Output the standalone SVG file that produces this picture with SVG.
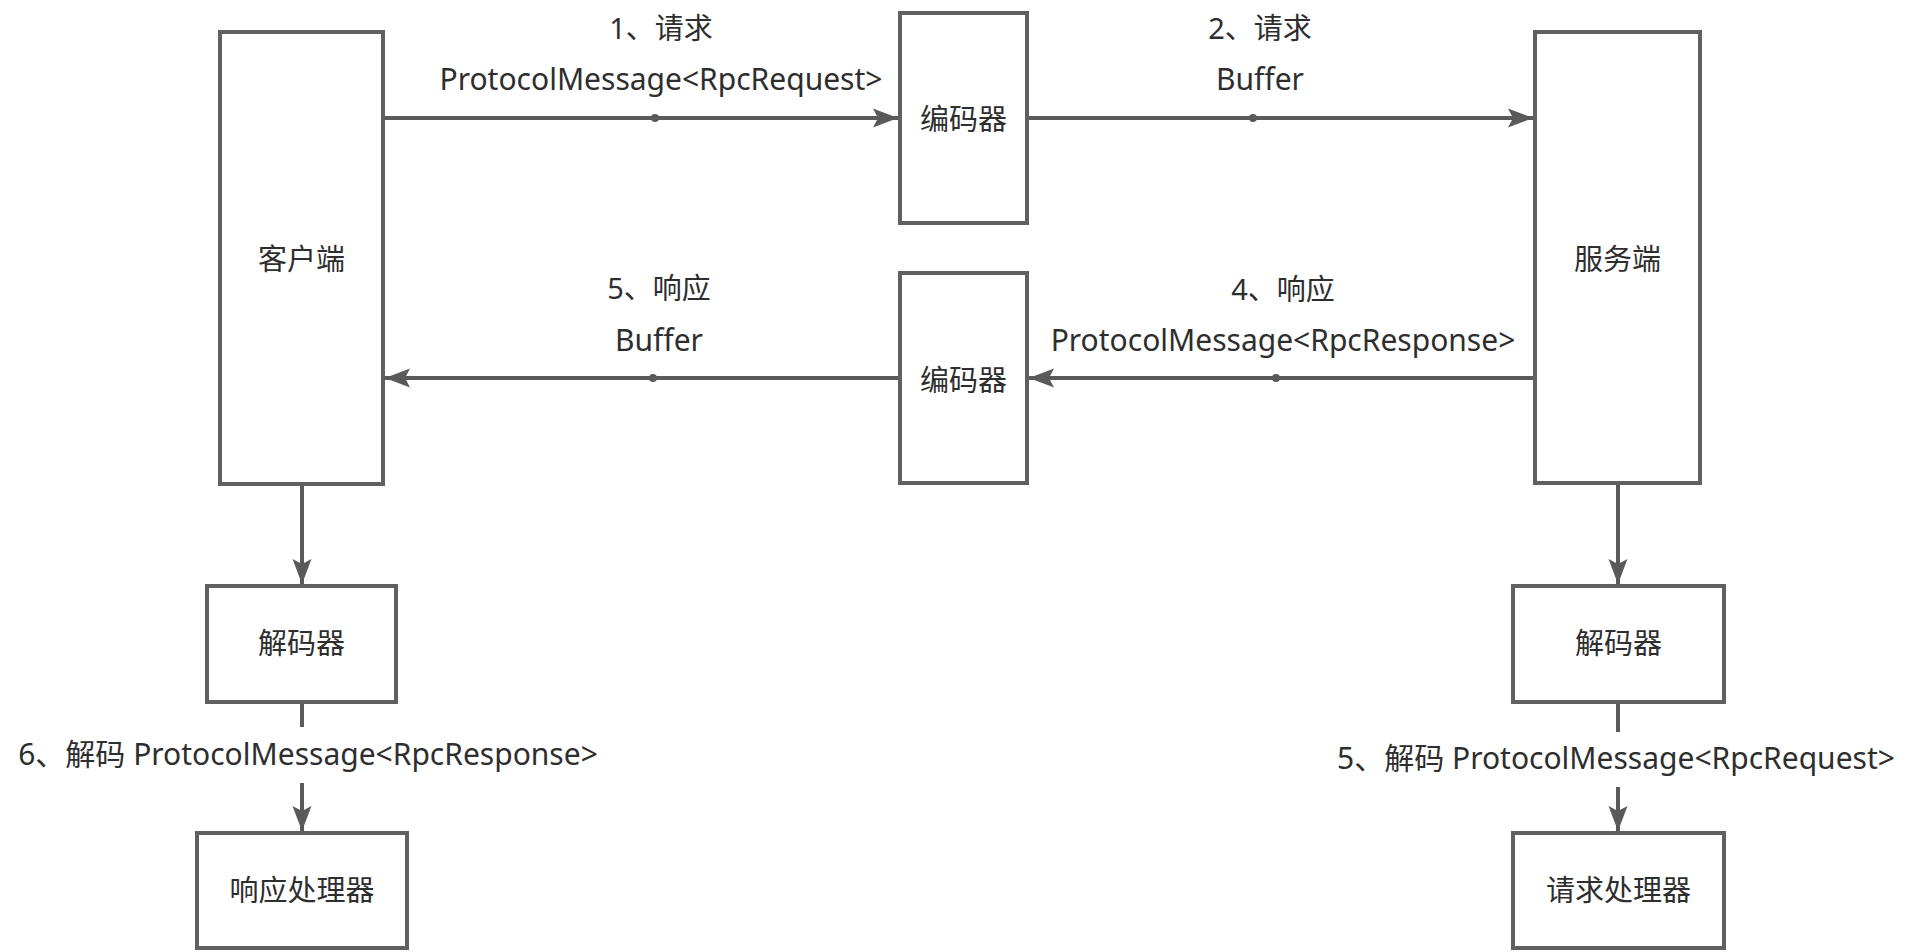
<svg xmlns="http://www.w3.org/2000/svg" width="1920" height="952" viewBox="0 0 1920 952">
  <style>
    .box { fill: #ffffff; stroke: #606060; stroke-width: 4; }
    .edge { fill: none; stroke: #5a5a5a; stroke-width: 4; }
    .dot { fill: #5a5a5a; }
    text { font-family: "Noto Sans", "Noto Sans CJK SC", sans-serif; font-size: 29px; fill: #2e2e2e; text-anchor: middle; }
    .lat { font-size: 30px; }
  </style>
  <defs>
    <marker id="arrow" markerUnits="userSpaceOnUse" markerWidth="26" markerHeight="20" viewBox="0 0 26 20" refX="25" refY="10" orient="auto">
      <path d="M0,0.5 L25,10 L0,19.5 L5,10 Z" fill="#5a5a5a"/>
    </marker>
  </defs>
  <rect width="1920" height="952" fill="#ffffff"/>

  <g id="connectors">
    <line class="edge" x1="385" y1="118" x2="898" y2="118" marker-end="url(#arrow)"/>
    <circle class="dot" cx="655" cy="118" r="4"/>
    <line class="edge" x1="1029" y1="118" x2="1533" y2="118" marker-end="url(#arrow)"/>
    <circle class="dot" cx="1253" cy="118" r="4"/>
    <line class="edge" x1="1533" y1="378" x2="1029" y2="378" marker-end="url(#arrow)"/>
    <circle class="dot" cx="1276" cy="378" r="4"/>
    <line class="edge" x1="898" y1="378" x2="385" y2="378" marker-end="url(#arrow)"/>
    <circle class="dot" cx="653" cy="378" r="4"/>
    <line class="edge" x1="302" y1="486" x2="302" y2="584" marker-end="url(#arrow)"/>
    <line class="edge" x1="1618" y1="485" x2="1618" y2="584" marker-end="url(#arrow)"/>
    <line class="edge" x1="302" y1="704" x2="302" y2="727"/>
    <line class="edge" x1="302" y1="783" x2="302" y2="831" marker-end="url(#arrow)"/>
    <line class="edge" x1="1618" y1="704" x2="1618" y2="732"/>
    <line class="edge" x1="1618" y1="787" x2="1618" y2="831" marker-end="url(#arrow)"/>

    <text x="661" y="39">1、请求</text>
    <text class="lat" x="661" y="90">ProtocolMessage&lt;RpcRequest&gt;</text>
    <text x="1260" y="39">2、请求</text>
    <text class="lat" x="1260" y="90">Buffer</text>
    <text x="659" y="299">5、响应</text>
    <text class="lat" x="659" y="351">Buffer</text>
    <text x="1283" y="300">4、响应</text>
    <text class="lat" x="1283" y="351">ProtocolMessage&lt;RpcResponse&gt;</text>
    <text class="lat" x="308" y="765">6、解码 ProtocolMessage&lt;RpcResponse&gt;</text>
    <text class="lat" x="1616" y="769">5、解码 ProtocolMessage&lt;RpcRequest&gt;</text>
  </g>

  <g id="client">
    <rect class="box" x="220" y="32" width="163" height="452"/>
    <text x="301.5" y="270">客户端</text>
  </g>
  <g id="encoder-top">
    <rect class="box" x="900" y="13" width="127" height="210"/>
    <text x="963.5" y="130">编码器</text>
  </g>
  <g id="server">
    <rect class="box" x="1535" y="32" width="165" height="451"/>
    <text x="1617.5" y="270">服务端</text>
  </g>
  <g id="encoder-bottom">
    <rect class="box" x="900" y="273" width="127" height="210"/>
    <text x="963.5" y="391">编码器</text>
  </g>
  <g id="decoder-left">
    <rect class="box" x="207" y="586" width="189" height="116"/>
    <text x="301.5" y="654">解码器</text>
  </g>
  <g id="decoder-right">
    <rect class="box" x="1513" y="586" width="211" height="116"/>
    <text x="1618.5" y="654">解码器</text>
  </g>
  <g id="response-handler">
    <rect class="box" x="197" y="833" width="210" height="115"/>
    <text x="302" y="901">响应处理器</text>
  </g>
  <g id="request-handler">
    <rect class="box" x="1513" y="833" width="211" height="115"/>
    <text x="1618.5" y="901">请求处理器</text>
  </g>
</svg>
